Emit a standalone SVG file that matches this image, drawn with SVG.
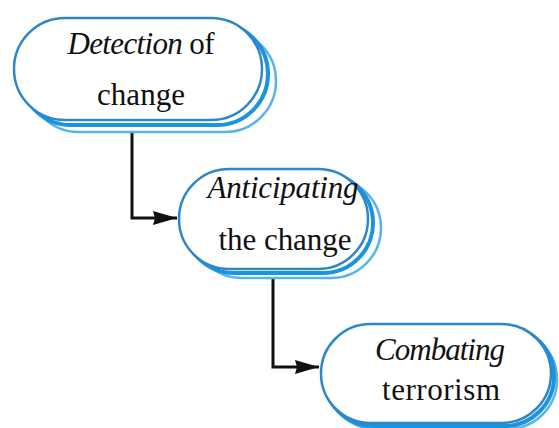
<svg xmlns="http://www.w3.org/2000/svg" width="559" height="428" viewBox="0 0 559 428">
<style>
.sh2{fill:#ffffff;stroke:#5ab4e6;stroke-width:2.5}
.sh1{fill:#ffffff;stroke:#1a94dc;stroke-width:4}
.main{fill:#ffffff;stroke:#2f86c8;stroke-width:2.5}
.t{font-family:"Liberation Serif","Times New Roman",serif;font-size:31px;fill:#111111}
.i{font-style:italic}
.conn{fill:none;stroke:#111111;stroke-width:3}
</style>
<defs>
<marker id="arr" viewBox="0 0 24 16" refX="24" refY="8" markerWidth="24" markerHeight="16" markerUnits="userSpaceOnUse" orient="auto">
<path d="M0,1 L24,8 L0,15 L2,8 Z" fill="#111111"/>
</marker>
</defs>
<rect width="559" height="428" fill="#ffffff"/>
<g id="connectors">
<path class="conn" d="M132,121 V218 H177" marker-end="url(#arr)"/>
<path class="conn" d="M273,272 V367 H319" marker-end="url(#arr)"/>
<path class="conn" d="M428,418 V428"/>
</g>
<g id="node1">
<rect class="sh2" x="28" y="30" width="248" height="102" rx="51"/>
<rect class="sh1" x="20" y="23" width="248" height="102" rx="51"/>
<rect class="main" x="14" y="18" width="248" height="102" rx="51"/>
<text class="t" x="141" y="54" text-anchor="middle" textLength="147" lengthAdjust="spacing"><tspan class="i">Detection</tspan> of</text>
<text class="t" x="141" y="105" text-anchor="middle">change</text>
</g>
<g id="node2">
<rect class="sh2" x="192" y="178" width="189" height="100" rx="50"/>
<rect class="sh1" x="184" y="173" width="189" height="100" rx="50"/>
<rect class="main" x="179" y="169" width="189" height="100" rx="50"/>
<text class="t i" x="283" y="198" text-anchor="middle" textLength="151" lengthAdjust="spacing">Anticipating</text>
<text class="t" x="285" y="250" text-anchor="middle" textLength="133" lengthAdjust="spacing">the change</text>
</g>
<g id="node3">
<rect class="sh2" x="327" y="330" width="230" height="99" rx="49.5"/>
<rect class="sh1" x="324" y="327" width="230" height="99" rx="49.5"/>
<rect class="main" x="321" y="324" width="230" height="99" rx="49.5"/>
<text class="t i" x="440" y="360" text-anchor="middle" textLength="130" lengthAdjust="spacing">Combating</text>
<text class="t" x="441" y="400" text-anchor="middle" textLength="118" lengthAdjust="spacing">terrorism</text>
</g>
</svg>
